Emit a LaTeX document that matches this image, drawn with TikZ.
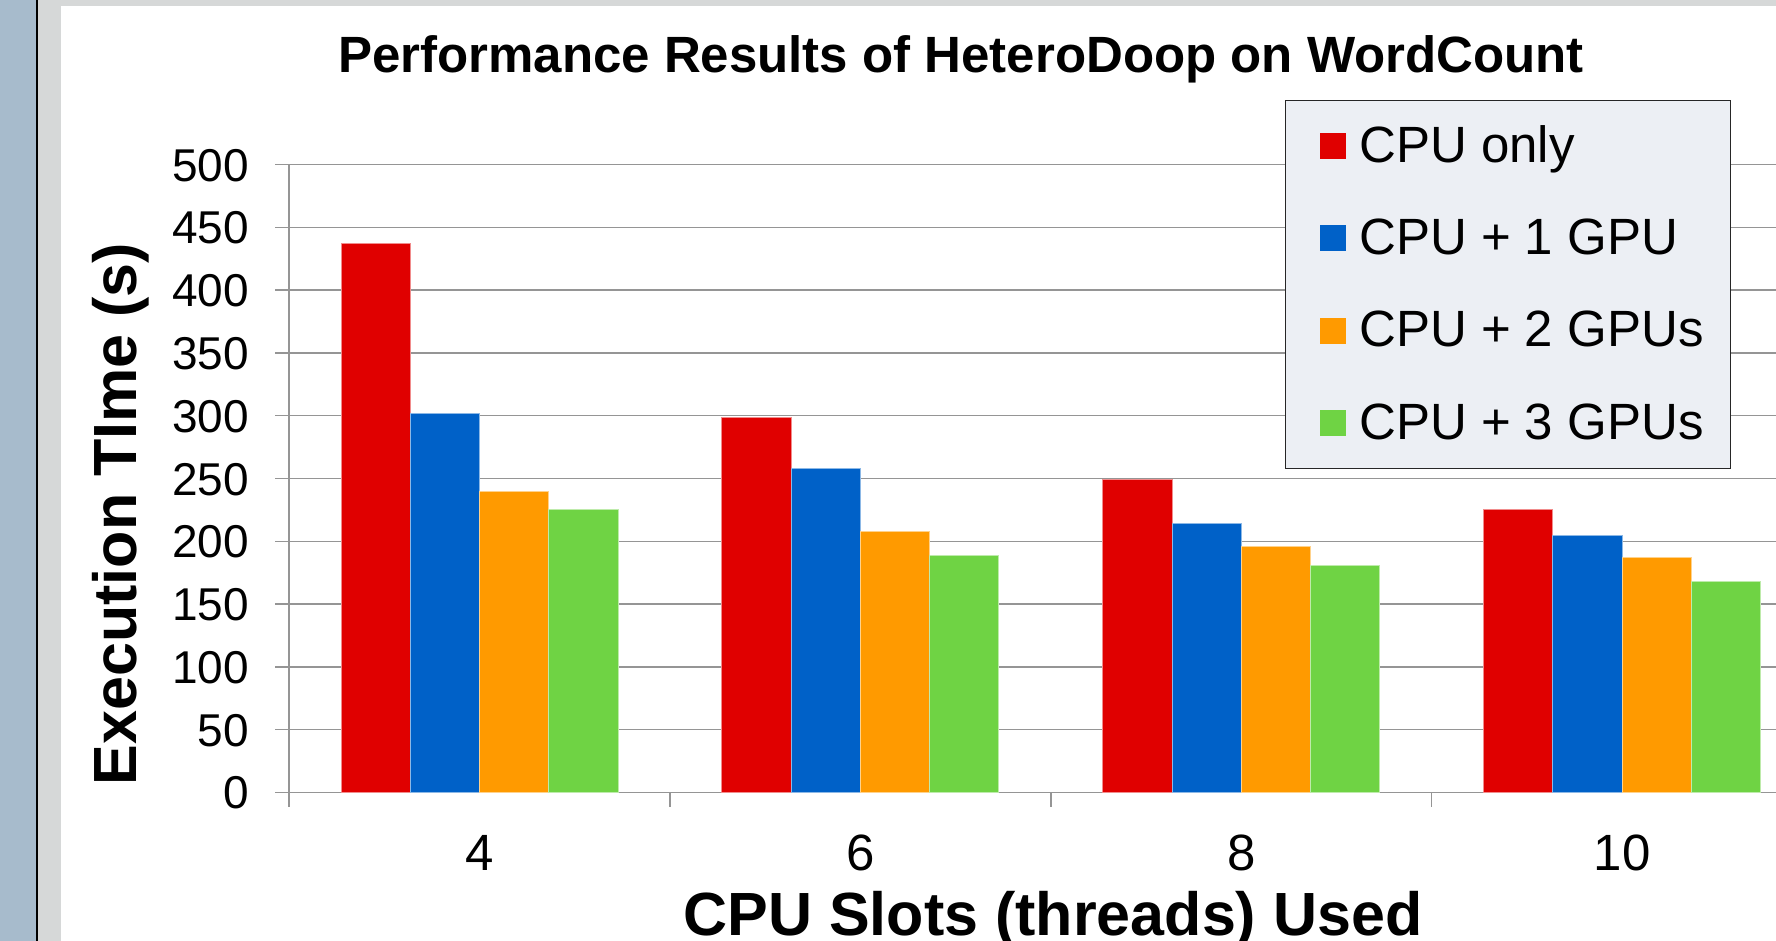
\documentclass[tikz,border=0pt]{standalone}
\usepackage{fontspec}
\setmainfont{Liberation Sans}
\definecolor{sidebar}{HTML}{A7BBCC}
\definecolor{framegray}{HTML}{D6D8D8}
\definecolor{gridc}{HTML}{959595}
\definecolor{cpuonly}{HTML}{E00000}
\definecolor{gpuone}{HTML}{0061C8}
\definecolor{gputwo}{HTML}{FF9A00}
\definecolor{gputhree}{HTML}{6FD344}
\definecolor{legendbg}{HTML}{ECEFF4}
\tikzset{
  gridline/.style={draw=gridc, line width=1.4pt},
  bar/.style={draw=white!55!#1, line width=0.8pt, fill=#1},
  ticklab/.style={inner sep=0pt, font=\fontsize{46}{50}\selectfont},
  catlab/.style={inner sep=0pt, font=\fontsize{51}{56}\selectfont},
  axtitle/.style={inner sep=0pt, font=\fontsize{61}{66}\selectfont\bfseries},
  legtext/.style={inner sep=0pt, anchor=base west, font=\fontsize{51}{56}\selectfont},
  legkey/.style={fill=#1, minimum size=26pt, inner sep=0pt, draw=none}
}
\begin{document}
\begin{tikzpicture}[x=1pt, y=-1pt]
  % canvas and page frame
  \clip (0,0) rectangle (1776,941);
  \fill[white] (0,0) rectangle (1776,941);
  \fill[sidebar] (0,0) rectangle (36,941);
  \fill[black] (36,0) rectangle (37.8,941);
  \fill[framegray] (37.8,0) rectangle (1776,941);
  \fill[white] (61,6) rectangle (1776,941);

  % value axis scale: 0 at y=792.4, 500 at y=164.6
  \def\yz{792.4}
  \def\ys{1.2556}

  % horizontal grid lines, tick marks and value labels
  \foreach \v in {0,50,...,500} {
    \pgfmathsetmacro\yy{\yz-\v*\ys}
    \draw[gridline] (275,\yy) -- (1776,\yy);
    \node[ticklab, anchor=base east] (yt\v) at (249,{\yy+16.5}) {\v};
  }
  % vertical axis and category ticks
  \draw[gridline] (289,164.6) -- (289,807);
  \foreach \t in {1,2,3} {
    \draw[gridline] ({289+\t*380.9},\yz) -- ({289+\t*380.9},807);
  }

  % bars: slots / CPU only / +1 GPU / +2 GPUs / +3 GPUs
  \foreach \c/\lab/\a/\b/\d/\e in {0/4/437/302/240/225, 1/6/299/258/208/189, 2/8/249/214/196/181, 3/10/225/205/187/168} {
    \pgfmathsetmacro\l{289+\c*380.9+51.9}
    \path[bar=cpuonly]  (\l,\yz) rectangle ({\l+69.25},{\yz-\a*\ys});
    \path[bar=gpuone]   ({\l+69.25},\yz) rectangle ({\l+138.5},{\yz-\b*\ys});
    \path[bar=gputwo]   ({\l+138.5},\yz) rectangle ({\l+207.75},{\yz-\d*\ys});
    \path[bar=gputhree] ({\l+207.75},\yz) rectangle ({\l+277},{\yz-\e*\ys});
    \node[catlab, anchor=base] (xt\c) at ({289+\c*380.9+190.45},870) {\lab};
  }

  % titles
  \node[inner sep=0pt, anchor=base, font=\fontsize{51}{56}\selectfont\bfseries] (title) at (961,72.7)
    {Performance Results of HeteroDoop on WordCount};
  \node[axtitle, anchor=base] (xtitle) at (1053,935.4) {CPU Slots (threads) Used};
  \node[axtitle, anchor=base, rotate=90] (ytitle) at (136.7,514) {Execution TIme (s)};

  % legend
  \path[fill=legendbg, draw=black!85, line width=1.5pt] (1285.7,100.3) rectangle (1730.3,468.7);
  \foreach \i/\col/\txt in {0/cpuonly/CPU only, 1/gpuone/CPU + 1 GPU, 2/gputwo/CPU + 2 GPUs, 3/gputhree/CPU + 3 GPUs} {
    \node[legkey=\col] (key\i) at (1333,{146+\i*92.3}) {};
    \node[legtext] (leg\i) at (1359,{162.3+\i*92.3}) {\txt};
  }
\end{tikzpicture}
\end{document}
